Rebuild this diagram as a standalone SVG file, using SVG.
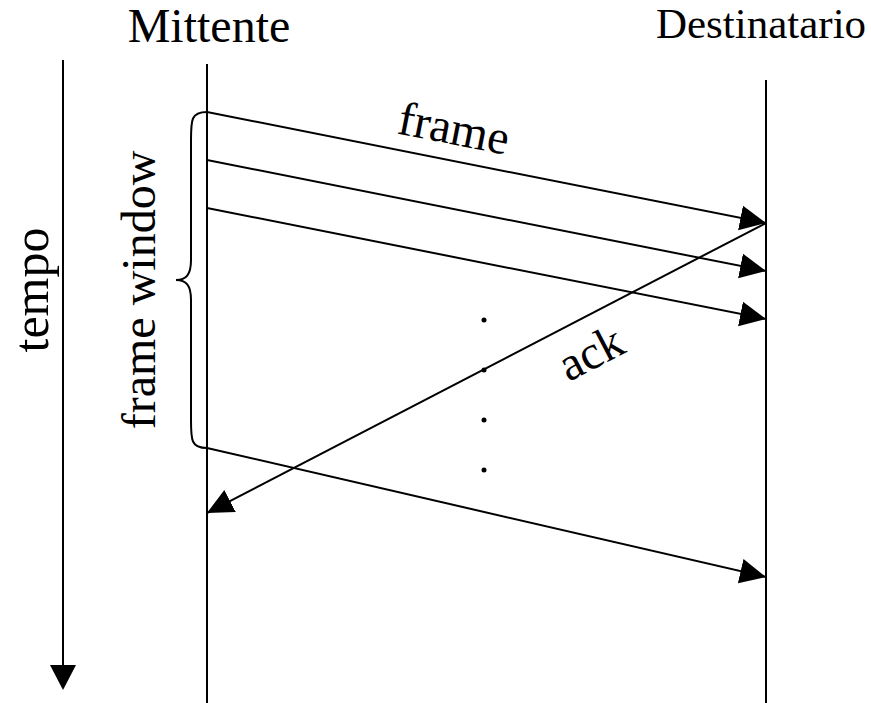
<svg xmlns="http://www.w3.org/2000/svg" width="871" height="703" viewBox="0 0 871 703">
<style>
text{font-family:"Liberation Serif","Times New Roman",serif;fill:#000}
.ln{stroke:#000;stroke-width:2;fill:none}
</style>
<defs>
<marker id="ah" markerUnits="userSpaceOnUse" markerWidth="28" markerHeight="26" refX="26" refY="12.5" orient="auto" viewBox="0 0 28 26">
<path d="M0,0 L26,12.5 L0,25 z" fill="#000"/>
</marker>
</defs>
<rect width="871" height="703" fill="#fff"/>
<g id="time-axis">
<line class="ln" x1="63" y1="60" x2="63" y2="668"/>
<path d="M50,665 L76,665 L63,690 z" fill="#000"/>
<text transform="translate(48,290) rotate(-90)" font-size="50" text-anchor="middle">tempo</text>
</g>
<g id="sender">
<line class="ln" x1="207" y1="64" x2="207" y2="703"/>
<text x="209" y="42" font-size="48" text-anchor="middle">Mittente</text>
</g>
<g id="receiver">
<line class="ln" x1="766" y1="80" x2="766" y2="703"/>
<text x="761" y="38" font-size="43" text-anchor="middle">Destinatario</text>
</g>
<g id="window">
<path class="ln" d="M207,112 C191,112 191,120 191,140 L191,260 C191,275 186,280 176,280 C186,280 191,285 191,300 L191,420 C191,440 191,448 207,448"/>
<text transform="translate(155,290) rotate(-90)" font-size="48" text-anchor="middle">frame window</text>
</g>
<g id="connectors">
<line class="ln" x1="207" y1="112" x2="766" y2="223" marker-end="url(#ah)"/>
<line class="ln" x1="207" y1="160" x2="766" y2="271" marker-end="url(#ah)"/>
<line class="ln" x1="207" y1="208" x2="766" y2="319" marker-end="url(#ah)"/>
<line class="ln" x1="207" y1="448" x2="766" y2="577" marker-end="url(#ah)"/>
<line class="ln" x1="766" y1="223" x2="207" y2="513" marker-end="url(#ah)"/>
</g>
<g id="labels">
<text transform="translate(451,144) rotate(11.2)" font-size="48" text-anchor="middle">frame</text>
<text transform="translate(598,367) rotate(-27.4)" font-size="48" text-anchor="middle">ack</text>
</g>
<g id="dots" fill="#000">
<circle cx="484" cy="320" r="2.5"/>
<circle cx="484" cy="370" r="2.5"/>
<circle cx="484" cy="420" r="2.5"/>
<circle cx="484" cy="470" r="2.5"/>
</g>
</svg>
